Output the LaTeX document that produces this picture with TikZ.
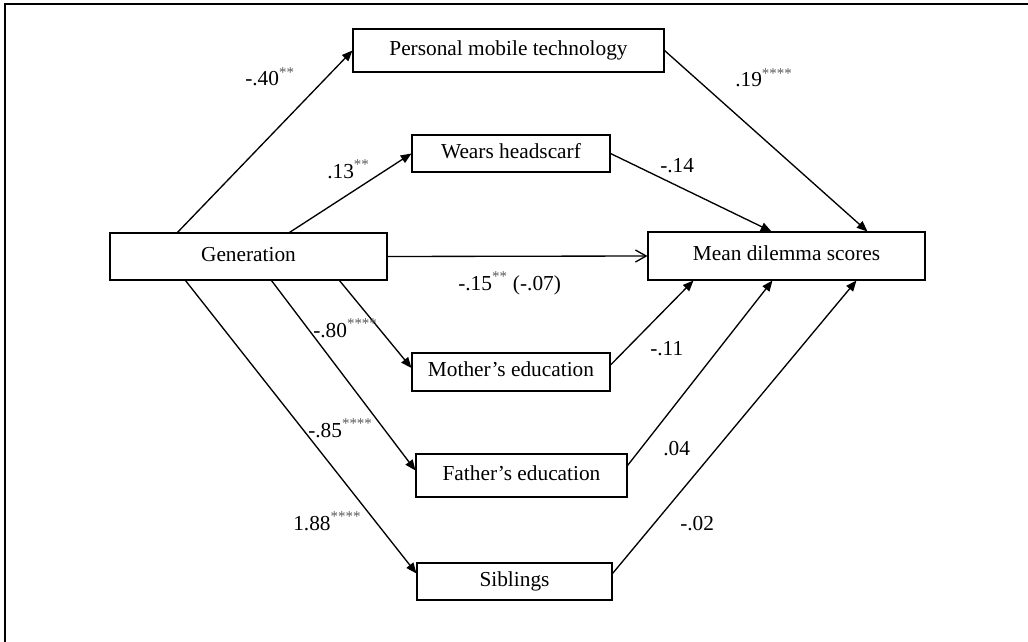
\documentclass[tikz,border=0pt]{standalone}
\usepackage{fontspec}
\setmainfont{Liberation Serif}
\usetikzlibrary{arrows.meta,calc}
\tikzset{
  box/.style={draw, line width=0.8pt, inner sep=0pt, text height=11.2pt, text depth=4pt,
    font=\fontsize{16}{19}\selectfont},
  effect/.style={line width=1pt, -{Triangle[length=8pt,width=6.5pt]}},
  direct/.style={line width=1pt, -{Straight Barb[length=8pt,width=9pt,line width=1pt]}},
  coef/.style={anchor=base west, inner sep=0pt, font=\fontsize{16}{19}\selectfont}
}
\newcommand{\signif}[1]{\textsuperscript{\color{black!65}#1}}
\begin{document}
\begin{tikzpicture}[x=0.75pt,y=-0.75pt]
    \useasboundingbox (0,0) rectangle (1028,642);
    % Outer frame
    \draw[line width=1.5pt] (5,642) -- (5,4) -- (1028,4);

    % Define boxes
    \node[box, minimum width=233.25pt, minimum height=32.25pt] (pmt) at (508.5,50.5) {Personal mobile technology};
    \node[box, minimum width=148.5pt, minimum height=27.75pt] (wears) at (511,153.5) {Wears headscarf};
    \node[box, minimum width=207.75pt, minimum height=35.25pt] (gen) at (248.5,256.5) {Generation};
    \node[box, minimum width=207.75pt, minimum height=36pt] (mean) at (786.5,256) {Mean dilemma scores};
    \node[box, minimum width=148.5pt, minimum height=28.5pt] (mother) at (511,372) {Mother’s education};
    \node[box, minimum width=158.25pt, minimum height=32.25pt] (father) at (521.5,475.5) {Father’s education};
    \node[box, minimum width=146.25pt, minimum height=27.75pt] (sib) at (514.5,581.5) {Siblings};

    % Draw paths
    \draw[effect] ($(gen.north west)+(68,0)$) -- (pmt.west);
    \draw[effect] ($(gen.north west)+(180,0)$) -- (wears.west);
    \draw[effect] (pmt.east) -- ($(mean.north west)+(220,0)$);
    \draw[effect] (wears.east) -- ($(mean.north west)+(124,0)$);
    \draw[direct] (gen.east) -- (mean.west);
    \draw[effect] ($(gen.south west)+(230,0)$) -- ($(mother.west)+(0,-4)$);
    \draw[effect] ($(gen.south west)+(162,0)$) -- ($(father.west)+(0,-5)$);
    \draw[effect] ($(gen.south west)+(76,0)$) -- ($(sib.west)+(0,-8)$);
    \draw[effect] ($(mother.east)+(0,-7)$) -- ($(mean.south west)+(46,0)$);
    \draw[effect] ($(father.east)+(0,-10)$) -- ($(mean.south west)+(125,0)$);
    \draw[effect] ($(sib.east)+(0,-8)$) -- ($(mean.south west)+(209,0)$);

    % Path coefficients
    \node[coef] (cpmt) at (245,86) {-.40\signif{**}};
    \node[coef] (cwears) at (327,178) {.13\signif{**}};
    \node[coef] (cpmtmean) at (735,87) {.19\signif{****}};
    \node[coef] (cwearsmean) at (660,172) {-.14};
    \node[coef] (cdirect) at (458,290) {-.15\signif{**} (-.07)};
    \node[coef] (cmother) at (313,337) {-.80\signif{****}};
    \node[coef] (cmothermean) at (650,355) {-.11};
    \node[coef] (cfathermean) at (663,455) {.04};
    \node[coef] (csibmean) at (680,530) {-.02};
    \node[coef] (cfather) at (308,437) {-.85\signif{****}};
    \node[coef] (csib) at (293,530) {1.88\signif{****}};
\end{tikzpicture}
\end{document}
